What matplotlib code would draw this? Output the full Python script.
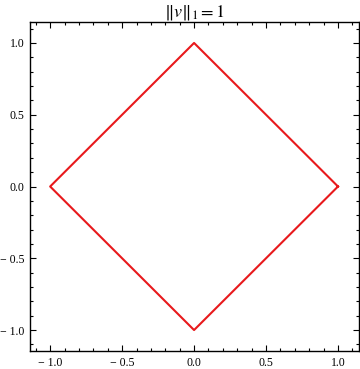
import matplotlib
matplotlib.use("Agg")
import matplotlib.pyplot as plt
import numpy as np
from matplotlib.ticker import MultipleLocator

plt.rcParams['font.family'] = ['Liberation Serif', 'DejaVu Serif']
plt.rcParams['mathtext.fontset'] = 'stix'

# diamond |x| + |y| = 1
xs = [1.0, 0.0, -1.0, 0.0, 1.0]
ys = [0.0, 1.0, 0.0, -1.0, 0.0]
ticks = [-1.0, -0.5, 0.0, 0.5, 1.0]
tick_labels = ["\u2212 1.0", "\u2212 0.5", "0.0", "0.5", "1.0"]

fig = plt.figure(figsize=(3.6, 3.69), dpi=100)
ax = fig.add_axes([30/360, 18/369, 329/360, 329/369])
ax.plot(xs, ys, color="#e8191c", lw=1.5)

ax.set_xlim(-1.14, 1.146)
ax.set_ylim(-1.146, 1.146)
ax.set_xticks(ticks)
ax.set_yticks(ticks)
ax.set_xticklabels(tick_labels)
ax.set_yticklabels(tick_labels)
ax.xaxis.set_minor_locator(MultipleLocator(0.1))
ax.yaxis.set_minor_locator(MultipleLocator(0.1))
ax.tick_params(which="both", direction="in", top=True, right=True, labelsize=8.5, width=0.8)
ax.tick_params(which="major", length=4, pad=4)
ax.tick_params(which="minor", length=2)
for s in ax.spines.values():
    s.set_linewidth(1.0)

ax.set_title(r"$\|v\|_1 = 1$", fontsize=13, pad=2)

fig.savefig("out.png", dpi=100)
